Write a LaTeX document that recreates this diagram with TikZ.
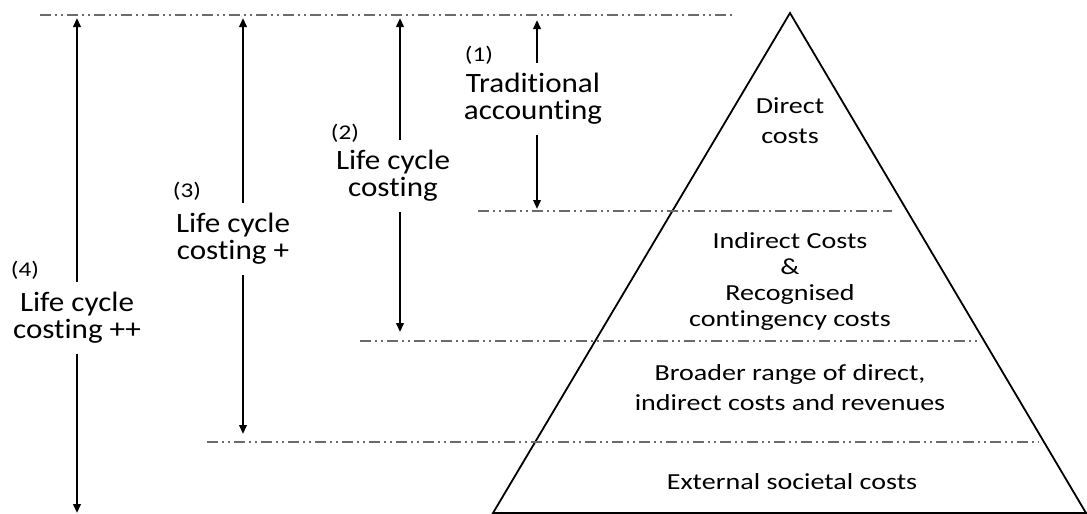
\documentclass[tikz,border=0pt]{standalone}
\usepackage{fontspec}
\setmainfont{Carlito}[Ligatures=CommonOff]
\newfontfamily\layerfont{Carlito}[FakeStretch=1.22, Ligatures=CommonOff]
\newfontfamily\labelfont{Carlito}[FakeStretch=1.11, Ligatures=CommonOff]
\newfontfamily\tagfont{Carlito}[FakeStretch=1.2]
\usetikzlibrary{arrows.meta}
\begin{document}
\begin{tikzpicture}[x=1pt,y=-1pt,
  guide/.style={draw=black!58, line width=1.5pt,
    dash pattern=on 11pt off 4pt on 2pt off 4pt on 2pt off 4pt},
  span/.style={line width=2.1pt,
    {Triangle[width=7.5pt,length=9pt]}-{Triangle[width=7.5pt,length=9pt]}},
  lbl/.style={fill=white, align=center, inner xsep=2pt, inner ysep=10pt,
    font=\labelfont\fontsize{28}{27}\selectfont},
  tag/.style={inner sep=0pt, font=\tagfont\fontsize{21}{22}\selectfont},
  layer/.style={align=center, inner sep=0pt}]
\useasboundingbox (0,0) rectangle (1087,514);

% pyramid
\coordinate (apex) at (790,13);
\coordinate (bl) at (493,513);
\coordinate (br) at (1086,513);
\draw[line width=1.8pt, line join=miter] (apex) -- (bl) -- (br) -- cycle;

% level guides
\coordinate (g0a) at (40,15);   \coordinate (g0b) at (735,15);
\coordinate (g1a) at (478,211); \coordinate (g1b) at (892,211);
\coordinate (g2a) at (360,341); \coordinate (g2b) at (977,341);
\coordinate (g3a) at (207,442); \coordinate (g3b) at (1039,442);
\draw[guide] (g0a) -- (g0b);
\draw[guide] (g1a) -- (g1b);
\draw[guide] (g2a) -- (g2b);
\draw[guide] (g3a) -- (g3b);

% layer texts
\node[layer, font=\layerfont\fontsize{23}{30}\selectfont] (direct) at (790,121) {Direct\\costs};
\node[layer, font=\layerfont\fontsize{23}{26}\selectfont] (indirect) at (790,281)
  {Indirect Costs\\\&\\Recognised\\contingency costs};
\node[layer, font=\layerfont\fontsize{23}{30}\selectfont] (broader) at (790,388)
  {Broader range of direct,\\indirect costs and revenues};
\node[layer, font=\layerfont\fontsize{23}{26}\selectfont] (external) at (792,482)
  {External societal costs};

% scope arrows
\coordinate (a1t) at (537,20);  \coordinate (a1b) at (537,209);
\coordinate (a2t) at (400,18);  \coordinate (a2b) at (400,332);
\coordinate (a3t) at (243,18);  \coordinate (a3b) at (243,434);
\coordinate (a4t) at (77,18);   \coordinate (a4b) at (77,513);
\draw[span] (a1t) -- (a1b);
\draw[span] (a2t) -- (a2b);
\draw[span] (a3t) -- (a3b);
\draw[span] (a4t) -- (a4b);

% scope labels
\node[lbl] (l1) at (533,99)  {Traditional\\accounting};
\node[lbl] (l2) at (393,176) {Life cycle\\costing};
\node[lbl] (l3) at (233,239) {Life cycle\\costing +};
\node[lbl] (l4) at (77,318)  {Life cycle\\costing ++};
\node[tag] (t1) at (479,55)  {(1)};
\node[tag] (t2) at (345,133) {(2)};
\node[tag] (t3) at (187,191) {(3)};
\node[tag] (t4) at (25,270)  {(4)};
\end{tikzpicture}
\end{document}
